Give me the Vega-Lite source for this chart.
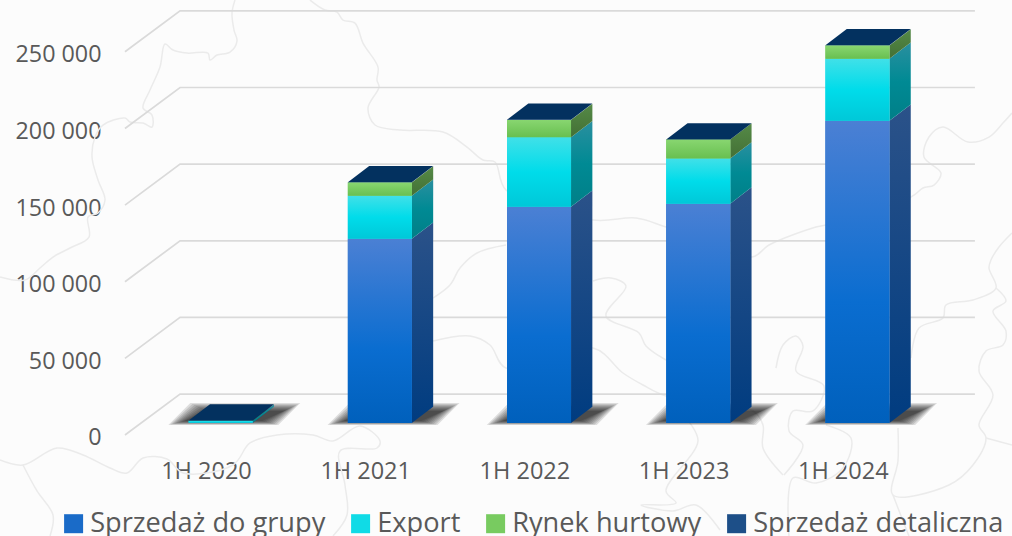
{
"$schema":"https://vega.github.io/schema/vega-lite/v6.json",
"width":1012,"height":536,"autosize":{"type":"none"},"padding":0,"background":"#fcfcfc",
"config":{"view":{"stroke":null},"font":"Open Sans"},
"datasets":{
"sprzedaz":[
{"okres":"1H 2020","seria":"Sprzedaż do grupy","wartosc":100},{"okres":"1H 2020","seria":"Export","wartosc":1300},{"okres":"1H 2020","seria":"Rynek hurtowy","wartosc":100},{"okres":"1H 2020","seria":"Sprzedaż detaliczna","wartosc":50},
{"okres":"1H 2021","seria":"Sprzedaż do grupy","wartosc":120200},{"okres":"1H 2021","seria":"Export","wartosc":28000},{"okres":"1H 2021","seria":"Rynek hurtowy","wartosc":8700},{"okres":"1H 2021","seria":"Sprzedaż detaliczna","wartosc":100},
{"okres":"1H 2022","seria":"Sprzedaż do grupy","wartosc":141100},{"okres":"1H 2022","seria":"Export","wartosc":45300},{"okres":"1H 2022","seria":"Rynek hurtowy","wartosc":11300},{"okres":"1H 2022","seria":"Sprzedaż detaliczna","wartosc":100},
{"okres":"1H 2023","seria":"Sprzedaż do grupy","wartosc":143100},{"okres":"1H 2023","seria":"Export","wartosc":29400},{"okres":"1H 2023","seria":"Rynek hurtowy","wartosc":12400},{"okres":"1H 2023","seria":"Sprzedaż detaliczna","wartosc":100},
{"okres":"1H 2024","seria":"Sprzedaż do grupy","wartosc":197200},{"okres":"1H 2024","seria":"Export","wartosc":40400},{"okres":"1H 2024","seria":"Rynek hurtowy","wartosc":8700},{"okres":"1H 2024","seria":"Sprzedaż detaliczna","wartosc":100}
],
"siatka":[{"v":0},{"v":50000},{"v":100000},{"v":150000},{"v":200000},{"v":250000}],
"mapa":[
{"l":"a","lon":235,"lat":0},{"l":"a","lon":232,"lat":13},{"l":"a","lon":234,"lat":30},{"l":"a","lon":237,"lat":41},{"l":"a","lon":230,"lat":52},{"l":"a","lon":217,"lat":55},{"l":"a","lon":210,"lat":60},{"l":"a","lon":208,"lat":53},{"l":"a","lon":187,"lat":53},{"l":"a","lon":173,"lat":50},{"l":"a","lon":165,"lat":44},{"l":"a","lon":160,"lat":67},{"l":"a","lon":150,"lat":90},{"l":"a","lon":143,"lat":108},{"l":"a","lon":152,"lat":115},{"l":"a","lon":152,"lat":127},{"l":"a","lon":143,"lat":123},{"l":"a","lon":130,"lat":122},{"l":"a","lon":125,"lat":118},{"l":"a","lon":103,"lat":125},{"l":"a","lon":95,"lat":137},{"l":"a","lon":92,"lat":157},{"l":"a","lon":98,"lat":180},{"l":"a","lon":105,"lat":200},{"l":"a","lon":98,"lat":213},{"l":"a","lon":88,"lat":217},{"l":"a","lon":89,"lat":237},{"l":"a","lon":70,"lat":248},{"l":"a","lon":53,"lat":257},{"l":"a","lon":40,"lat":268},{"l":"a","lon":25,"lat":280},{"l":"a","lon":0,"lat":277},
{"l":"b","lon":310,"lat":0},{"l":"b","lon":325,"lat":10},{"l":"b","lon":337,"lat":12},{"l":"b","lon":343,"lat":20},{"l":"b","lon":355,"lat":23},{"l":"b","lon":363,"lat":43},{"l":"b","lon":378,"lat":67},{"l":"b","lon":377,"lat":80},{"l":"b","lon":379,"lat":87},{"l":"b","lon":368,"lat":108},{"l":"b","lon":375,"lat":125},{"l":"b","lon":400,"lat":130},{"l":"b","lon":443,"lat":132},{"l":"b","lon":467,"lat":147},{"l":"b","lon":483,"lat":160},{"l":"b","lon":495,"lat":162},{"l":"b","lon":506,"lat":190},{"l":"b","lon":593,"lat":220},{"l":"b","lon":636,"lat":218},{"l":"b","lon":666,"lat":227},{"l":"b","lon":752,"lat":257},{"l":"b","lon":769,"lat":245},{"l":"b","lon":816,"lat":227},{"l":"b","lon":826,"lat":225},{"l":"b","lon":911,"lat":197},{"l":"b","lon":923,"lat":188},{"l":"b","lon":934,"lat":185},{"l":"b","lon":941,"lat":173},{"l":"b","lon":924,"lat":157},{"l":"b","lon":929,"lat":137},{"l":"b","lon":943,"lat":127},{"l":"b","lon":968,"lat":142},{"l":"b","lon":989,"lat":137},{"l":"b","lon":1003,"lat":123},{"l":"b","lon":1012,"lat":113},
{"l":"c","lon":0,"lat":460},{"l":"c","lon":23,"lat":465},{"l":"c","lon":57,"lat":448},{"l":"c","lon":83,"lat":455},{"l":"c","lon":110,"lat":468},{"l":"c","lon":127,"lat":473},{"l":"c","lon":143,"lat":458},{"l":"c","lon":167,"lat":459},{"l":"c","lon":183,"lat":473},{"l":"c","lon":233,"lat":465},{"l":"c","lon":250,"lat":443},{"l":"c","lon":277,"lat":435},{"l":"c","lon":313,"lat":435},{"l":"c","lon":333,"lat":441},{"l":"c","lon":360,"lat":426},{"l":"c","lon":380,"lat":441},{"l":"c","lon":377,"lat":448},{"l":"c","lon":340,"lat":451},{"l":"c","lon":345,"lat":485},{"l":"c","lon":347,"lat":515},{"l":"c","lon":333,"lat":536},
{"l":"d","lon":23,"lat":465},{"l":"d","lon":37,"lat":491},{"l":"d","lon":53,"lat":515},{"l":"d","lon":50,"lat":536},
{"l":"e","lon":433,"lat":298},{"l":"e","lon":450,"lat":285},{"l":"e","lon":460,"lat":268},{"l":"e","lon":477,"lat":253},{"l":"e","lon":506,"lat":245},
{"l":"f","lon":433,"lat":341},{"l":"f","lon":470,"lat":336},{"l":"f","lon":490,"lat":345},{"l":"f","lon":506,"lat":368},{"l":"f","lon":593,"lat":348},{"l":"f","lon":623,"lat":373},{"l":"f","lon":643,"lat":385},{"l":"f","lon":666,"lat":396},{"l":"f","lon":753,"lat":411},{"l":"f","lon":763,"lat":425},{"l":"f","lon":763,"lat":448},{"l":"f","lon":783,"lat":475},
{"l":"g","lon":593,"lat":281},{"l":"g","lon":611,"lat":278},{"l":"g","lon":626,"lat":286},{"l":"g","lon":606,"lat":316},{"l":"g","lon":639,"lat":333},{"l":"g","lon":646,"lat":346},{"l":"g","lon":666,"lat":360},
{"l":"h","lon":686,"lat":418},{"l":"h","lon":698,"lat":441},{"l":"h","lon":666,"lat":491},{"l":"h","lon":676,"lat":503},{"l":"h","lon":641,"lat":505},{"l":"h","lon":673,"lat":511},{"l":"h","lon":696,"lat":505},{"l":"h","lon":720,"lat":530},
{"l":"i","lon":789,"lat":536},{"l":"i","lon":793,"lat":478},{"l":"i","lon":816,"lat":483},{"l":"i","lon":843,"lat":468},{"l":"i","lon":851,"lat":438},{"l":"i","lon":826,"lat":425},
{"l":"j","lon":776,"lat":368},{"l":"j","lon":783,"lat":345},{"l":"j","lon":796,"lat":336},{"l":"j","lon":803,"lat":346},{"l":"j","lon":796,"lat":371},{"l":"j","lon":824,"lat":386},{"l":"j","lon":813,"lat":411},{"l":"j","lon":793,"lat":411},{"l":"j","lon":789,"lat":431},{"l":"j","lon":803,"lat":445},{"l":"j","lon":784,"lat":475},
{"l":"k","lon":911,"lat":358},{"l":"k","lon":919,"lat":328},{"l":"k","lon":943,"lat":318},{"l":"k","lon":946,"lat":305},{"l":"k","lon":973,"lat":300},{"l":"k","lon":996,"lat":288},{"l":"k","lon":989,"lat":268},{"l":"k","lon":991,"lat":260},{"l":"k","lon":999,"lat":247},{"l":"k","lon":1012,"lat":233},
{"l":"m","lon":996,"lat":288},{"l":"m","lon":1006,"lat":301},{"l":"m","lon":993,"lat":311},{"l":"m","lon":1006,"lat":331},{"l":"m","lon":1003,"lat":345},{"l":"m","lon":986,"lat":351},{"l":"m","lon":979,"lat":371},{"l":"m","lon":993,"lat":395},{"l":"m","lon":979,"lat":425},{"l":"m","lon":986,"lat":438},{"l":"m","lon":973,"lat":465},{"l":"m","lon":949,"lat":485},{"l":"m","lon":893,"lat":495},{"l":"m","lon":898,"lat":461},{"l":"m","lon":898,"lat":428},
{"l":"n","lon":986,"lat":438},{"l":"n","lon":1012,"lat":445},
{"l":"o","lon":893,"lat":495},{"l":"o","lon":903,"lat":521},{"l":"o","lon":909,"lat":536}
]
},
"layer":[
{"data":{"name":"mapa"},
 "transform":[{"calculate":"(datum.lon-206)/159.2","as":"mx"},{"calculate":"(435-datum.lat)/1.533*1000","as":"my"}],
 "mark":{"type":"line","color":"#ebebeb","strokeWidth":1.5,"interpolate":"catmull-rom"},
 "encoding":{
  "x":{"field":"mx","type":"quantitative","scale":{"domain":[-1.294,5.063],"nice":false,"zero":false},"axis":{"values":[0,1,2,3,4],"labelExpr":"'1H ' + (2020+datum.value)","title":null,"grid":false,"domain":false,"ticks":false,"offset":-77,"labelPadding":0,"labelFontSize":23.5,"labelColor":"#595959","labelFont":"Open Sans","labelFlush":false,"labelOverlap":false}},
  "y":{"field":"my","type":"quantitative","scale":{"domain":[-65900,283800],"nice":false,"zero":false},"axis":{"values":[0,50000,100000,150000,200000,250000],"labelExpr":"replace(format(datum.value,','),/,/g,' ')","title":null,"grid":false,"domain":false,"ticks":false,"offset":-101,"labelPadding":0,"labelOffset":3,"labelFontSize":23.3,"labelColor":"#595959","labelFont":"Open Sans","labelFlush":false,"labelOverlap":false}},
  "detail":{"field":"l"},"order":{"value":null}}},
{"data":{"name":"siatka"},
 "transform":[{"calculate":"[0,1,2]","as":"k"},{"flatten":["k"]},{"calculate":"[-0.509,-0.163,4.83][datum.k]","as":"gx"},{"calculate":"datum.v+(datum.k>0?26700:0)","as":"gy"}],
 "mark":{"type":"line","color":"#dadada","strokeWidth":1.7},
 "encoding":{"x":{"field":"gx","type":"quantitative"},"y":{"field":"gy","type":"quantitative"},"detail":{"field":"v"},"order":{"value":null}}},
{"mark":{"type":"rule","color":"#dadada","strokeWidth":1.7},
 "encoding":{"x":{"datum":-0.509},"x2":{"datum":4.49},"y":{"datum":0}}},
{"data":{"name":"sprzedaz"},
 "transform":[{"filter":"datum.seria==='Sprzedaż detaliczna'"},{"calculate":"toNumber(slice(datum.okres,3))-2020+0.092","as":"c"},{"calculate":"[-4,-3,-2,-1,0,1,2,3,4]","as":"e"},{"flatten":["e"]},{"calculate":"[0,1,2,3]","as":"k"},{"flatten":["k"]},
  {"calculate":"datum.c+[-0.278,-0.14,0.312,0.45][datum.k]+[-1,-1,1,1][datum.k]*datum.e*0.0126","as":"fx"},{"calculate":"[7830-datum.e*326,18260+datum.e*652,18260+datum.e*652,18260+datum.e*652][datum.k]","as":"f1"},{"calculate":"[7830-datum.e*326,7830-datum.e*326,7830-datum.e*326,18260+datum.e*652][datum.k]","as":"f2"}],
 "mark":{"type":"area","orient":"vertical","color":"#000000","opacity":0.12},
 "encoding":{"x":{"field":"fx","type":"quantitative"},"y":{"field":"f2","type":"quantitative"},"y2":{"field":"f1"},"detail":[{"field":"okres"},{"field":"e"}],"order":{"value":null}}},

{"data":{"name":"sprzedaz"},
 "transform":[{"stack":"wartosc","groupby":["okres"],"as":["dol","gora"]},{"filter":"datum.seria==='Sprzedaż do grupy'"},{"calculate":"toNumber(slice(datum.okres,3))-2020+0.092","as":"c"},{"calculate":"[0,1]","as":"k"},{"flatten":["k"]},{"calculate":"datum.c+0.201+datum.k*0.134","as":"sx"},{"calculate":"datum.dol+7830+datum.k*10630","as":"s0"},{"calculate":"datum.gora+7830+datum.k*10630","as":"s1"}],
 "mark":{"type":"area","orient":"vertical","color":{"gradient":"linear","x1":0,"y1":0,"x2":0,"y2":1,"stops":[{"offset":0,"color":"#2b5289"},{"offset":1,"color":"#003c80"}]}},
 "encoding":{"x":{"field":"sx","type":"quantitative"},"y":{"field":"s1","type":"quantitative"},"y2":{"field":"s0"},"detail":{"field":"okres"},"order":{"value":null}}},
{"data":{"name":"sprzedaz"},
 "transform":[{"stack":"wartosc","groupby":["okres"],"as":["dol","gora"]},{"filter":"datum.seria==='Export'"},{"calculate":"toNumber(slice(datum.okres,3))-2020+0.092","as":"c"},{"calculate":"[0,1]","as":"k"},{"flatten":["k"]},{"calculate":"datum.c+0.201+datum.k*0.134","as":"sx"},{"calculate":"datum.dol+7830+datum.k*10630","as":"s0"},{"calculate":"datum.gora+7830+datum.k*10630","as":"s1"}],
 "mark":{"type":"area","orient":"vertical","color":{"gradient":"linear","x1":0,"y1":0,"x2":0,"y2":1,"stops":[{"offset":0,"color":"#2a8f9f"},{"offset":0.5,"color":"#008a94"},{"offset":1,"color":"#007f88"}]}},
 "encoding":{"x":{"field":"sx","type":"quantitative"},"y":{"field":"s1","type":"quantitative"},"y2":{"field":"s0"},"detail":{"field":"okres"},"order":{"value":null}}},
{"data":{"name":"sprzedaz"},
 "transform":[{"stack":"wartosc","groupby":["okres"],"as":["dol","gora"]},{"filter":"datum.seria==='Rynek hurtowy'"},{"calculate":"toNumber(slice(datum.okres,3))-2020+0.092","as":"c"},{"calculate":"[0,1]","as":"k"},{"flatten":["k"]},{"calculate":"datum.c+0.201+datum.k*0.134","as":"sx"},{"calculate":"datum.dol+7830+datum.k*10630","as":"s0"},{"calculate":"datum.gora+7830+datum.k*10630","as":"s1"}],
 "mark":{"type":"area","orient":"vertical","color":{"gradient":"linear","x1":0,"y1":0,"x2":0,"y2":1,"stops":[{"offset":0,"color":"#558a47"},{"offset":1,"color":"#437035"}]}},
 "encoding":{"x":{"field":"sx","type":"quantitative"},"y":{"field":"s1","type":"quantitative"},"y2":{"field":"s0"},"detail":{"field":"okres"},"order":{"value":null}}},

{"data":{"name":"sprzedaz"},
 "transform":[{"stack":"wartosc","groupby":["okres"],"as":["dol","gora"]},{"calculate":"toNumber(slice(datum.okres,3))-2020+0.092","as":"c"},{"calculate":"datum.c-0.201","as":"x0"},{"calculate":"datum.c+0.201","as":"x1"},{"calculate":"datum.dol+7830","as":"y0"},{"calculate":"datum.gora+7830","as":"y1"}],
 "mark":{"type":"rect"},
 "encoding":{"x":{"field":"x0","type":"quantitative"},"x2":{"field":"x1"},"y":{"field":"y1","type":"quantitative"},"y2":{"field":"y0"},
  "color":{"field":"seria","type":"nominal","title":null,"scale":{"domain":["Sprzedaż do grupy","Export","Rynek hurtowy","Sprzedaż detaliczna"],"range":["#1a6bc8","#10dbe6","#78cb60","#1d4f88"]},
  "legend":{"orient":"none","legendX":60,"legendY":510,"direction":"horizontal","columns":4,"symbolType":"square","symbolSize":361,"symbolStrokeWidth":0,"labelFontSize":27.2,"labelColor":"#595959","labelFont":"Open Sans","labelOffset":3,"columnPadding":21,"padding":0,"labelLimit":400}}}},

{"data":{"name":"sprzedaz"},
 "transform":[{"stack":"wartosc","groupby":["okres"],"as":["dol","gora"]},{"filter":"datum.seria==='Sprzedaż do grupy'"},{"calculate":"toNumber(slice(datum.okres,3))-2020+0.092","as":"c"},{"calculate":"datum.c-0.201","as":"x0"},{"calculate":"datum.c+0.201","as":"x1"},{"calculate":"datum.dol+7830","as":"y0"},{"calculate":"datum.gora+7830","as":"y1"}],
 "mark":{"type":"rect","color":{"gradient":"linear","x1":0,"y1":0,"x2":0,"y2":1,"stops":[{"offset":0,"color":"#4b80d4"},{"offset":0.6,"color":"#0a6dd0"},{"offset":1,"color":"#0060bc"}]}},
 "encoding":{"x":{"field":"x0","type":"quantitative"},"x2":{"field":"x1"},"y":{"field":"y1","type":"quantitative"},"y2":{"field":"y0"}}},
{"data":{"name":"sprzedaz"},
 "transform":[{"stack":"wartosc","groupby":["okres"],"as":["dol","gora"]},{"filter":"datum.seria==='Export'"},{"calculate":"toNumber(slice(datum.okres,3))-2020+0.092","as":"c"},{"calculate":"datum.c-0.201","as":"x0"},{"calculate":"datum.c+0.201","as":"x1"},{"calculate":"datum.dol+7830","as":"y0"},{"calculate":"datum.gora+7830","as":"y1"}],
 "mark":{"type":"rect","color":{"gradient":"linear","x1":0,"y1":0,"x2":0,"y2":1,"stops":[{"offset":0,"color":"#40e0e8"},{"offset":0.5,"color":"#00dcea"},{"offset":1,"color":"#00c8d8"}]}},
 "encoding":{"x":{"field":"x0","type":"quantitative"},"x2":{"field":"x1"},"y":{"field":"y1","type":"quantitative"},"y2":{"field":"y0"}}},
{"data":{"name":"sprzedaz"},
 "transform":[{"stack":"wartosc","groupby":["okres"],"as":["dol","gora"]},{"filter":"datum.seria==='Rynek hurtowy'"},{"calculate":"toNumber(slice(datum.okres,3))-2020+0.092","as":"c"},{"calculate":"datum.c-0.201","as":"x0"},{"calculate":"datum.c+0.201","as":"x1"},{"calculate":"datum.dol+7830","as":"y0"},{"calculate":"datum.gora+7830","as":"y1"}],
 "mark":{"type":"rect","color":{"gradient":"linear","x1":0,"y1":0,"x2":0,"y2":1,"stops":[{"offset":0,"color":"#88d670"},{"offset":1,"color":"#68bf50"}]}},
 "encoding":{"x":{"field":"x0","type":"quantitative"},"x2":{"field":"x1"},"y":{"field":"y1","type":"quantitative"},"y2":{"field":"y0"}}},

{"data":{"name":"sprzedaz"},
 "transform":[{"stack":"wartosc","groupby":["okres"],"as":["dol","gora"]},{"filter":"datum.seria==='Sprzedaż detaliczna'"},{"calculate":"toNumber(slice(datum.okres,3))-2020+0.092","as":"c"},{"calculate":"[0,1,2,3]","as":"k"},{"flatten":["k"]},
  {"calculate":"datum.c+[-0.201,-0.067,0.201,0.335][datum.k]","as":"tx"},{"calculate":"datum.gora+7830+[0,0,0,10630][datum.k]","as":"t0"},{"calculate":"datum.gora+7830+[0,10630,10630,10630][datum.k]","as":"t1"}],
 "mark":{"type":"area","orient":"vertical","color":"#03315f"},
 "encoding":{"x":{"field":"tx","type":"quantitative"},"y":{"field":"t1","type":"quantitative"},"y2":{"field":"t0"},"detail":{"field":"okres"},"order":{"value":null}}}
]
}
